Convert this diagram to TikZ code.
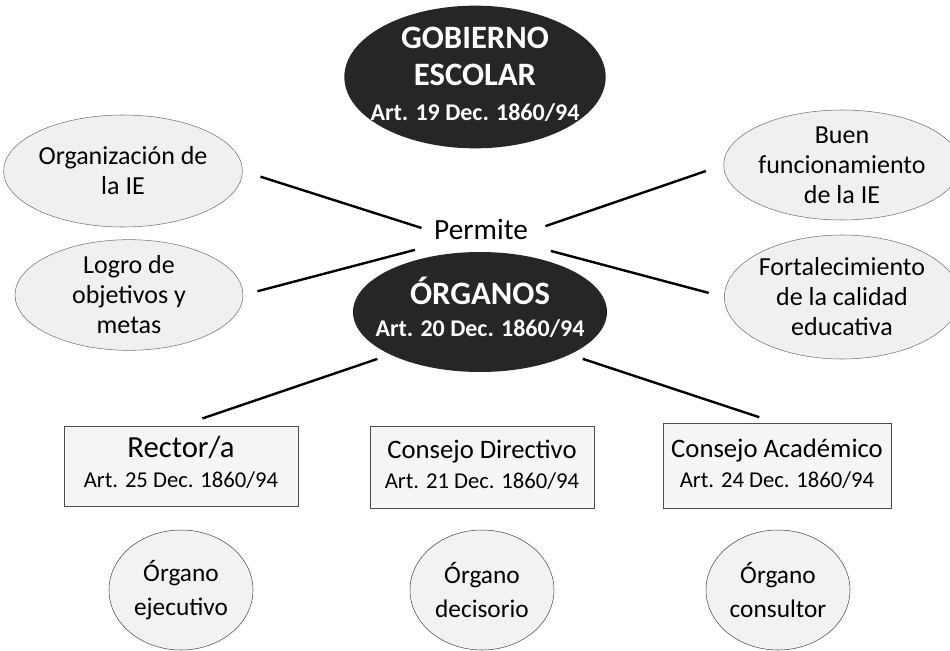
\documentclass[tikz,border=0pt]{standalone}
\usepackage{fontspec}
\setmainfont{Carlito}
\usetikzlibrary{shapes.geometric}

\begin{document}
\begin{tikzpicture}[x=0.75pt,y=-0.75pt,
  dark/.style={ellipse,fill=black!85,text=white,inner xsep=-14pt,inner ysep=-4pt,align=center,font=\fontsize{24.5}{28}\bfseries\selectfont},
  soft/.style={ellipse,draw=black!55,fill=black!6,inner sep=0pt,align=center,font=\fontsize{19.5}{22.5}\selectfont},
  cajon/.style={rectangle,draw=black!70,fill=black!4,inner sep=0pt,align=center,font=\fontsize{20}{22.5}\selectfont},
  organo/.style={ellipse,draw=black!70,fill=black!5,inner sep=0pt,align=center,minimum width=108pt,minimum height=90pt,font=\fontsize{19}{25}\selectfont},
  link/.style={line width=1.8pt}]%Gobierno escolar
\useasboundingbox (0,0) rectangle (950,650);
\node[dark,minimum width=196pt,minimum height=107pt] (gob) at (475,77)
  {\begin{tabular}{@{}c@{}}
   GOBIERNO\\
   ESCOLAR\\[-2pt]
   \fontsize{18}{22}\bfseries\selectfont Art. 19 Dec. 1860/94
   \end{tabular}};
\node[font=\fontsize{22}{26}\selectfont,inner sep=4.5pt] (permite) at (481,230) {Permite};
\node[dark,minimum width=190.5pt,minimum height=90pt] (orgs) at (480,312)
  {\begin{tabular}{@{}c@{}}
   ÓRGANOS\\[-4pt]
   \fontsize{18}{22}\bfseries\selectfont Art. 20 Dec. 1860/94
   \end{tabular}};
\node[soft,minimum width=165pt,minimum height=84pt] (orgIE) at (123,171) {Organización de\\la IE};
\node[soft,minimum width=171pt,minimum height=78pt] (logro) at (129,295) {Logro de\\objetivos y\\metas};
\node[soft,minimum width=160.5pt,minimum height=82.5pt] (buen) at (842,165) {Buen\\funcionamiento\\de la IE};
\node[soft,minimum width=165pt,minimum height=93pt] (fort) at (842,297) {Fortalecimiento\\de la calidad\\educativa};
\node[cajon,minimum width=175.5pt,minimum height=60pt] (rector) at (181,466)
  {\begin{tabular}{@{}c@{}}
   \fontsize{23}{24}\selectfont Rector/a\\
   \fontsize{17}{21}\selectfont Art. 25 Dec. 1860/94
   \end{tabular}};
\node[cajon,minimum width=168pt,minimum height=61.5pt] (directivo) at (482,467)
  {\begin{tabular}{@{}c@{}}
   Consejo Directivo\\
   \fontsize{17}{21}\selectfont Art. 21 Dec. 1860/94
   \end{tabular}};
\node[cajon,minimum width=171pt,minimum height=64pt] (academico) at (777,466)
  {\begin{tabular}{@{}c@{}}
   Consejo Académico\\
   \fontsize{17}{21}\selectfont Art. 24 Dec. 1860/94
   \end{tabular}};
\node[organo] (ejecutivo) at (181,590) {Órgano\\ejecutivo};
\node[organo] (decisorio) at (482,590) {Órgano\\decisorio};
\node[organo] (consultor) at (778,590) {Órgano\\consultor};
\draw[link,shorten <=14pt,shorten >=5pt] (orgIE.east) -- (permite.west);
\draw[link,shorten <=11pt,shorten >=10pt] (logro.east) -- (permite.south west);
\draw[link,shorten <=9pt,shorten >=14pt] (permite.east) -- (buen.west);
\draw[link,shorten <=13pt,shorten >=12pt] (permite.south east) -- (fort.west);
\draw[link,shorten <=10pt,shorten >=17pt] (orgs.south west) -- (rector.north);
\draw[link,shorten <=10pt,shorten >=14pt] (orgs.south east) -- (academico.north);
\end{tikzpicture}
\end{document}
